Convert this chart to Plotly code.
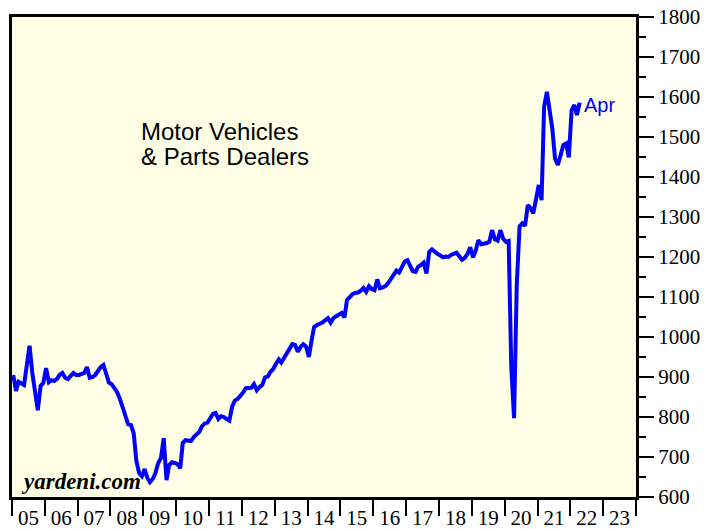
import plotly.graph_objects as go

# Motor vehicles & parts dealers sales, monthly, Jan 2005 .. Apr 2022
v2005 = [905, 865, 888, 885, 880, 930, 978, 910, 860, 817, 878, 885]
v2006 = [922, 887, 892, 890, 895, 905, 910, 898, 895, 903, 910, 905]
v2007 = [905, 908, 910, 925, 898, 900, 905, 915, 925, 930, 910, 886]
v2008 = [882, 872, 862, 845, 825, 800, 782, 780, 760, 690, 660, 652]
v2009 = [670, 647, 637, 645, 660, 685, 697, 747, 642, 680, 687, 685]
v2010 = [682, 672, 735, 742, 740, 740, 750, 755, 763, 777, 784, 786]
v2011 = [795, 808, 810, 795, 802, 800, 795, 791, 826, 841, 845, 852]
v2012 = [861, 872, 872, 873, 882, 867, 875, 880, 899, 901, 913, 920]
v2013 = [933, 944, 936, 947, 960, 969, 982, 980, 963, 975, 982, 976]
v2014 = [950, 992, 1025, 1030, 1032, 1036, 1042, 1047, 1036, 1047, 1052, 1055]
v2015 = [1060, 1049, 1092, 1100, 1107, 1110, 1111, 1116, 1123, 1113, 1127, 1120]
v2016 = [1117, 1144, 1122, 1124, 1127, 1135, 1145, 1152, 1166, 1161, 1175, 1188]
v2017 = [1192, 1180, 1165, 1163, 1176, 1180, 1186, 1159, 1213, 1219, 1212, 1208]
v2018 = [1204, 1199, 1201, 1200, 1205, 1208, 1211, 1202, 1193, 1198, 1208, 1224]
v2019 = [1199, 1217, 1242, 1232, 1233, 1235, 1238, 1267, 1244, 1241, 1267, 1246]
v2020 = [1238, 1240, 925, 797, 1130, 1276, 1284, 1278, 1330, 1322, 1309, 1347]
v2021 = [1380, 1342, 1576, 1613, 1560, 1520, 1445, 1430, 1455, 1480, 1484, 1449]
v2022 = [1567, 1580, 1555, 1586]

years = list(range(2005, 2023))
yearly = [v2005, v2006, v2007, v2008, v2009, v2010, v2011, v2012, v2013,
          v2014, v2015, v2016, v2017, v2018, v2019, v2020, v2021, v2022]

dates, values = [], []
for yr, vals in zip(years, yearly):
    for i, v in enumerate(vals):
        dates.append(f"{yr}-{i + 1:02d}-15")
        values.append(v)

y_ticks = list(range(600, 1801, 100))

fig = go.Figure()
fig.add_trace(go.Scatter(x=dates, y=values, mode="lines",
                         line=dict(color="#0000FF", width=4),
                         hoverinfo="skip", showlegend=False))

serif = "Liberation Serif, Times New Roman, serif"
sans = "Liberation Sans, Arial, sans-serif"

fig.update_layout(
    width=717, height=529,
    margin=dict(l=12, r=81, t=17, b=32),
    paper_bgcolor="white",
    plot_bgcolor="#FFFFE6",
    showlegend=False,
    xaxis=dict(
        type="date",
        range=["2005-01-01", "2024-01-01"],
        tick0="2005-01-01", dtick="M12",
        tickformat="%y",
        ticklabelmode="period",
        ticks="outside", ticklen=16, tickwidth=2, tickcolor="black",
        showgrid=False, zeroline=False, automargin=False,
        showline=True, linewidth=3, linecolor="black", mirror=True,
        tickfont=dict(family=serif, size=21, color="black"),
        ticklabelstandoff=-16,
    ),
    yaxis=dict(
        side="right",
        range=[600, 1800],
        tickvals=y_ticks,
        ticks="outside", ticklen=15, tickwidth=2, tickcolor="black",
        minor=dict(dtick=50, ticks="outside", ticklen=7, tickwidth=2, tickcolor="black"),
        showgrid=False, zeroline=False, automargin=False,
        showline=True, linewidth=3, linecolor="black", mirror=True,
        tickfont=dict(family=serif, size=21, color="black"),
    ),
)

fig.add_annotation(text="Motor Vehicles", xref="paper", yref="paper",
                   x=(139 - 12) / 624, y=1 - (116 - 17) / 480,
                   xanchor="left", yanchor="top", showarrow=False,
                   font=dict(family=sans, size=24, color="black"))
fig.add_annotation(text="& Parts Dealers", xref="paper", yref="paper",
                   x=(139 - 12) / 624, y=1 - (141 - 17) / 480,
                   xanchor="left", yanchor="top", showarrow=False,
                   font=dict(family=sans, size=24, color="black"))
fig.add_annotation(text="Apr", xref="paper", yref="paper",
                   x=(582 - 12) / 624, y=1 - (92 - 17) / 480,
                   xanchor="left", yanchor="top", showarrow=False,
                   font=dict(family=sans, size=20, color="#0000FF"))
fig.add_annotation(text="<b><i>yardeni.com</i></b>", xref="paper", yref="paper",
                   x=(19 - 12) / 624, y=1 - (467 - 17) / 480,
                   xanchor="left", yanchor="top", showarrow=False,
                   font=dict(family=serif, size=23, color="black"))

fig.write_html("out.html", config={"displayModeBar": False},
               post_script="document.body.style.margin='0';document.body.style.overflow='hidden';")
